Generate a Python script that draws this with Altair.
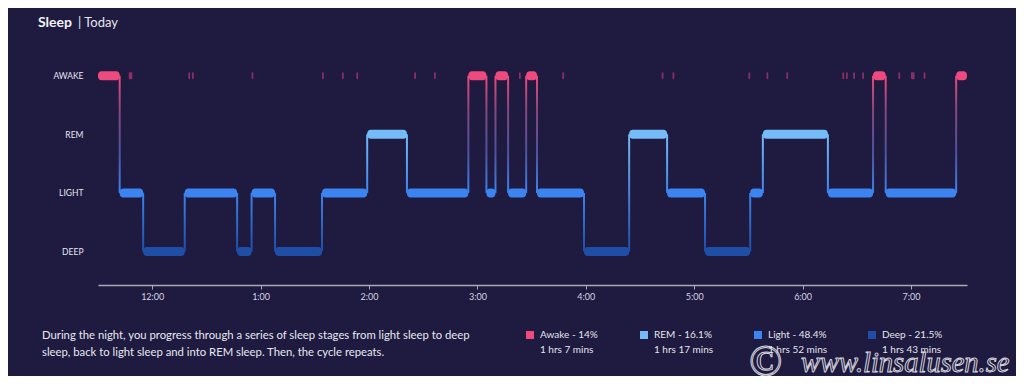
import altair as alt
import pandas as pd

BG = "#1e1a40"

# ---------------- data ----------------
stage_order = ["AWAKE", "REM", "LIGHT", "DEEP"]
stage_colors = ["#ee4a7d", "#74bbf8", "#3c84ef", "#1f4ea6"]
stage_level = {"DEEP": 0, "LIGHT": 1, "REM": 2, "AWAKE": 3}

stages = ["AWAKE", "LIGHT", "DEEP", "LIGHT", "DEEP", "LIGHT", "DEEP", "LIGHT",
          "REM", "LIGHT", "AWAKE", "LIGHT", "AWAKE", "LIGHT", "AWAKE", "LIGHT",
          "DEEP", "REM", "LIGHT", "DEEP", "LIGHT", "REM", "LIGHT", "AWAKE",
          "LIGHT", "AWAKE"]
starts = ["23:30", "23:42", "23:55", "00:18", "00:47", "00:55", "01:08", "01:34",
          "01:59", "02:21", "02:55", "03:05", "03:10", "03:17", "03:27", "03:33",
          "03:59", "04:24", "04:45", "05:06", "05:31", "05:38", "06:14", "06:39",
          "06:46", "07:25"]
end_time = "07:31"

brief_wake_times = ["23:47", "00:20", "00:22", "00:55", "01:34", "01:45", "01:53",
                    "02:25", "02:36", "03:23", "03:47", "04:42", "04:48", "05:30",
                    "05:40", "05:51", "06:22", "06:24", "06:28", "06:33", "06:53",
                    "07:00", "07:07"]
brief_wake_minutes = [2, 1, 1, 1, 1, 1, 1, 1, 1, 1, 1, 1, 1, 1, 1, 1, 1, 1, 1, 1,
                      1, 2, 1]

tick_times = ["00:00", "01:00", "02:00", "03:00", "04:00", "05:00", "06:00", "07:00"]
tick_labels = ["12:00", "1:00", "2:00", "3:00", "4:00", "5:00", "6:00", "7:00"]
y_labels = ["DEEP", "LIGHT", "REM", "AWAKE"]

legend_pct = ["Awake - 14%", "REM - 16.1%", "Light - 48.4%", "Deep - 21.5%"]
legend_dur = ["1 hrs 7 mins", "1 hrs 17 mins", "1 hrs 52 mins", "1 hrs 43 mins"]

title_main = "Sleep"
title_sub = "| Today"
description = ["During the night, you progress through a series of sleep stages from light sleep to deep",
               "sleep, back to light sleep and into REM sleep. Then, the cycle repeats."]
watermark_symbol = "©"
watermark_url = "www.linsalusen.se"


def to_min(s):
    h, m = map(int, s.split(":"))
    v = h * 60 + m
    return v - (23 * 60 + 30) if h >= 12 else v + 30


# ---------------- tables ----------------
seg = pd.DataFrame({
    "stage": stages,
    "x": [to_min(s) for s in starts],
    "x2": [to_min(s) for s in starts[1:] + [end_time]],
})
seg["y"] = seg["stage"].map(stage_level)

conn_rows = []
for i in range(1, len(stages)):
    a, b = stages[i - 1], stages[i]
    up, lo = (a, b) if stage_level[a] > stage_level[b] else (b, a)
    conn_rows.append({"key": up + "-" + lo, "x": to_min(starts[i]),
                      "y": stage_level[a], "y2": stage_level[b]})
conn = pd.DataFrame(conn_rows)

brief = pd.DataFrame({
    "x": [to_min(t) for t in brief_wake_times],
    "x2": [to_min(t) + d for t, d in zip(brief_wake_times, brief_wake_minutes)],
    "y": [stage_level["AWAKE"]] * len(brief_wake_times),
})

one = pd.DataFrame({"a": [0]})

# ---------------- scales / axes ----------------
xscale = alt.Scale(domain=[0, to_min(end_time)], nice=False, zero=False, padding=0)
yscale = alt.Scale(domain=[-0.572, 3.268], nice=False, zero=False, padding=0)

x_label_expr = "[" + ",".join(f"'{l}'" for l in tick_labels) + "][round((datum.value - 30) / 60)]"
xaxis = alt.Axis(values=[to_min(t) for t in tick_times], labelExpr=x_label_expr,
                 domainColor="#a9a9b8", domainWidth=1.5, tickColor="#a9a9b8",
                 tickSize=4, tickWidth=1, labelColor="#d5d5e0", labelFontSize=9,
                 labelFont="Lato", labelPadding=3, grid=False, title=None)
y_label_expr = "[" + ",".join(f"'{l}'" for l in y_labels) + "][datum.value]"
yaxis = alt.Axis(values=[0, 1, 2, 3], labelExpr=y_label_expr, domain=False,
                 ticks=False, grid=False, labelPadding=15, labelColor="#e6e6ee",
                 labelFontSize=8.5, labelFont="Lato", title=None)

X = alt.X("x:Q", scale=xscale, axis=xaxis)
Y = alt.Y("y:Q", scale=yscale, axis=yaxis)

col = dict(zip(stage_order, stage_colors))


def grad(up, lo):
    if up == "AWAKE":
        stops = [(col[up], 0), ("#84487f", 0.3), ("#4f52a0", 0.65), (col[lo], 1)]
    else:
        stops = [(col[up], 0), (col[lo], 1)]
    return {"gradient": "linear", "x1": 0, "x2": 0, "y1": 0, "y2": 1,
            "stops": [{"offset": o, "color": c} for c, o in stops]}


layers = []
for key, sub in conn.groupby("key"):
    up, lo = key.split("-")
    layers.append(
        alt.Chart(sub).mark_bar(orient="vertical", size=2, fill=grad(up, lo))
        .encode(x=X, y=Y, y2="y2:Q")
    )

# legend labels (two lines each)
lab_expr = ""
for s, p, d in zip(stage_order, legend_pct, legend_dur):
    lab_expr += f"datum.label == '{s}' ? ['{p}', '{d}'] : "
lab_expr += "datum.label"

bars = alt.Chart(seg).mark_bar(orient="horizontal", size=9, cornerRadius=3.5).encode(
    x=X, x2="x2:Q", y=Y,
    color=alt.Color("stage:N",
                    scale=alt.Scale(domain=stage_order, range=stage_colors),
                    legend=alt.Legend(orient="none", legendX=427, legendY=270,
                                      direction="horizontal", columns=4,
                                      gridAlign="all", columnPadding=38,
                                      symbolType="square", symbolSize=64,
                                      symbolStrokeWidth=0, symbolOpacity=1,
                                      labelExpr=lab_expr, labelBaseline="middle",
                                      labelColor="#e4e4ec", labelFont="Lato",
                                      labelFontSize=10, labelOffset=5,
                                      labelLimit=200, padding=0, title=None)),
)
layers.append(bars)

layers.append(
    alt.Chart(brief).mark_bar(orient="horizontal", size=7, cornerRadius=1,
                              color="#8a2e63")
    .encode(x=X, x2="x2:Q", y=Y)
)

# annotations
layers.append(alt.Chart(one).mark_text(align="left", baseline="middle", font="Lato",
                                       fontSize=14, fontWeight="bold", color="#f2f2f7")
              .encode(x=alt.value(-60), y=alt.value(-37), text=alt.value(title_main)))
layers.append(alt.Chart(one).mark_text(align="left", baseline="middle", font="Lato",
                                       fontSize=13, color="#e6e6ee")
              .encode(x=alt.value(-20), y=alt.value(-37), text=alt.value(title_sub)))
layers.append(alt.Chart(one).mark_text(align="left", baseline="alphabetic", font="Lato",
                                       fontSize=11.3, lineHeight=17, color="#e8e8f0",
                                       text=description)
              .encode(x=alt.value(-56), y=alt.value(279)))
layers.append(alt.Chart(one).mark_text(align="left", baseline="alphabetic",
                                       font="Liberation Serif", fontSize=44,
                                       fillOpacity=0, stroke="#d2d2da", strokeWidth=1)
              .encode(x=alt.value(651), y=alt.value(316), text=alt.value(watermark_symbol)))
layers.append(alt.Chart(one).mark_text(align="left", baseline="alphabetic",
                                       font="Liberation Serif", fontStyle="italic",
                                       fontSize=28.5, fillOpacity=0, stroke="#d2d2da",
                                       strokeWidth=1)
              .encode(x=alt.value(703), y=alt.value(312), text=alt.value(watermark_url)))

chart = alt.layer(*layers).properties(
    width=869, height=225,
    padding={"left": 90, "top": 52, "right": 49, "bottom": 91},
    autosize=alt.AutoSizeParams(type="none"),
    background=BG,
).configure(style={"guide-label": {"lineHeight": 15}}).configure_view(strokeWidth=0)

chart.save("out.html", embed_options={"renderer": "svg", "actions": False})
